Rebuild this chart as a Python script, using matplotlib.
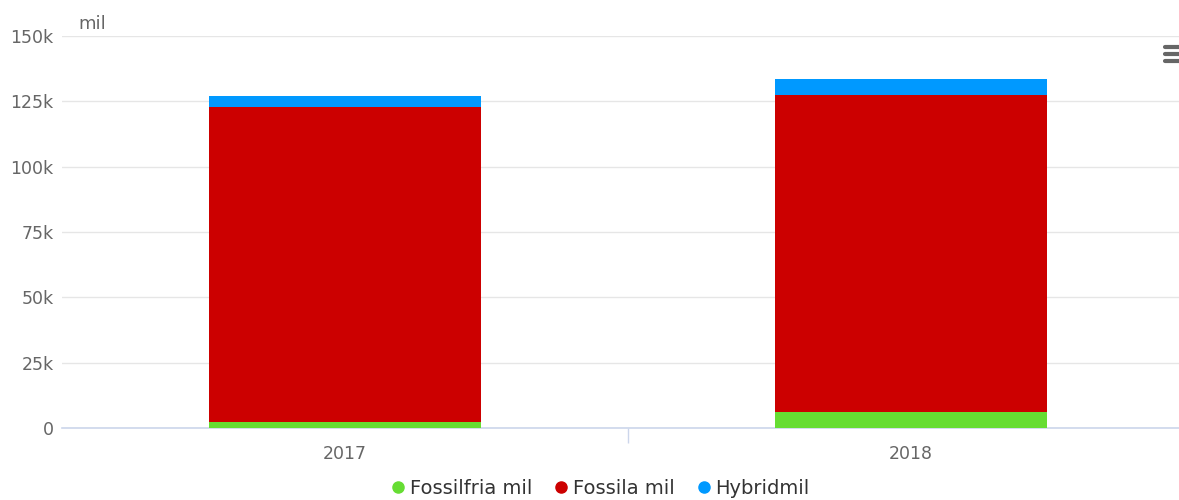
import matplotlib.pyplot as plt
import numpy as np
from matplotlib.lines import Line2D

years = ['2017', '2018']
fossilfria = [2200, 6100]
fossila = [120500, 121300]
hybrid = [4500, 6000]
series_names = ['Fossilfria mil', 'Fossila mil', 'Hybridmil']
colors = ['#66dd33', '#cc0000', '#0099ff']
yticks = [0, 25000, 50000, 75000, 100000, 125000, 150000]
ylabels = ['0', '25k', '50k', '75k', '100k', '125k', '150k']

plt.rcParams['font.family'] = ['DejaVu Sans']

fig = plt.figure(figsize=(11.79, 5.0), dpi=100)
# plot area runs a bit past the right edge of the image, as in the original
ax = fig.add_axes([62 / 1179, 1 - 428 / 500, 1132 / 1179, 392 / 500])

x = np.arange(len(years))
w = 0.48
bottom = np.zeros(len(years))
for vals, c in zip([fossilfria, fossila, hybrid], colors):
    ax.bar(x, vals, w, bottom=bottom, color=c, zorder=3)
    bottom += np.array(vals)

ax.set_xlim(-0.5, 1.5)
ax.set_ylim(0, 150000)
ax.set_yticks(yticks)
ax.set_yticklabels(ylabels)
ax.set_xticks(x)
ax.set_xticklabels(years)
ax.set_xticks([0.5], minor=True)

ax.grid(axis='y', color='#e6e6e6', linewidth=1, zorder=0)
for s in ['top', 'right', 'left']:
    ax.spines[s].set_visible(False)
ax.spines['bottom'].set_color('#ccd6eb')
ax.spines['bottom'].set_linewidth(1.2)

ax.tick_params(axis='y', length=0, pad=6, labelsize=12.5, labelcolor='#666666')
ax.tick_params(axis='x', which='major', length=0, pad=12, labelsize=12.5, labelcolor='#666666')
ax.tick_params(axis='x', which='minor', length=11, color='#ccd6eb', width=1)

fig.text(78 / 1179, 1 - 24 / 500, 'mil', fontsize=13, color='#666666', va='center')

# menu icon
for yy in [47, 54, 61]:
    fig.add_artist(Line2D([1165 / 1179, 1179 / 1179], [1 - yy / 500, 1 - yy / 500],
                          color='#666666', linewidth=3, solid_capstyle='round'))

handles = [Line2D([], [], marker='o', linestyle='', markersize=8, color=c) for c in colors]
fig.legend(handles, series_names, loc='lower center', bbox_to_anchor=(599 / 1179, -0.03),
           ncol=3, frameon=False, fontsize=14, labelcolor='#333333',
           handletextpad=0.1, columnspacing=1.0, handlelength=1.0)

fig.savefig('out.png', dpi=100)
